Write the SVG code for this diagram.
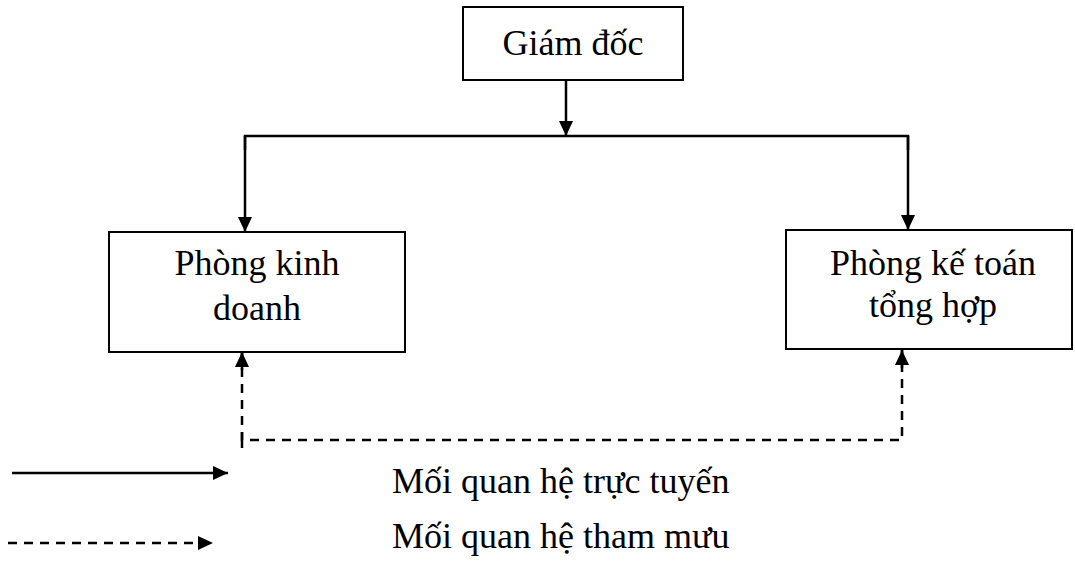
<svg xmlns="http://www.w3.org/2000/svg" width="1075" height="567" viewBox="0 0 1075 567">
<defs>
<style>
.box{fill:#fff;stroke:#000;stroke-width:2}
.t{font-family:"Liberation Serif","Times New Roman",serif;font-size:36px;fill:#000;text-anchor:middle}
.lt{font-family:"Liberation Serif","Times New Roman",serif;font-size:36px;fill:#000}
.solid{fill:none;stroke:#000;stroke-width:2.5}
.dash{fill:none;stroke:#000;stroke-width:2.5;stroke-dasharray:9 7}
</style>
<marker id="ah" viewBox="0 0 15 14" refX="15" refY="7" markerWidth="15" markerHeight="14" markerUnits="userSpaceOnUse" orient="auto">
<path d="M0,0 L15,7 L0,14 Z" fill="#000"/>
</marker>
</defs>
<g id="giam-doc">
<rect class="box" x="463" y="7" width="220" height="73"/>
<text class="t" x="573" y="55">Giám đốc</text>
</g>
<g id="phong-kinh-doanh">
<rect class="box" x="109" y="232" width="296" height="120"/>
<text class="t" x="257" y="275">Phòng kinh</text>
<text class="t" x="257" y="320">doanh</text>
</g>
<g id="phong-ke-toan">
<rect class="box" x="786" y="230" width="286" height="119"/>
<text class="t" x="933" y="275">Phòng kế toán</text>
<text class="t" x="933" y="317">tổng hợp</text>
</g>
<g id="connectors">
<line class="solid" x1="566" y1="80" x2="566" y2="136" marker-end="url(#ah)"/>
<polyline class="solid" points="245,150 245,136 908,136 908,150"/>
<line class="solid" x1="245" y1="136" x2="245" y2="232" marker-end="url(#ah)"/>
<line class="solid" x1="908" y1="136" x2="908" y2="230" marker-end="url(#ah)"/>
<polyline class="dash" points="242,352 242,440 902,440 902,350"/>
<line x1="242" y1="432" x2="242" y2="448" stroke="#000" stroke-width="2.5"/>
<line x1="242" y1="370" x2="242" y2="352" stroke="#000" stroke-width="2.5" marker-end="url(#ah)"/>
<line x1="902" y1="368" x2="902" y2="350" stroke="#000" stroke-width="2.5" marker-end="url(#ah)"/>
</g>
<g id="legend">
<line class="solid" x1="12" y1="473" x2="228" y2="473" marker-end="url(#ah)"/>
<line class="dash" x1="8" y1="543" x2="213" y2="543" marker-end="url(#ah)"/>
<text class="lt" x="392" y="493">Mối quan hệ trực tuyến</text>
<text class="lt" x="392" y="548">Mối quan hệ tham mưu</text>
</g>
</svg>
